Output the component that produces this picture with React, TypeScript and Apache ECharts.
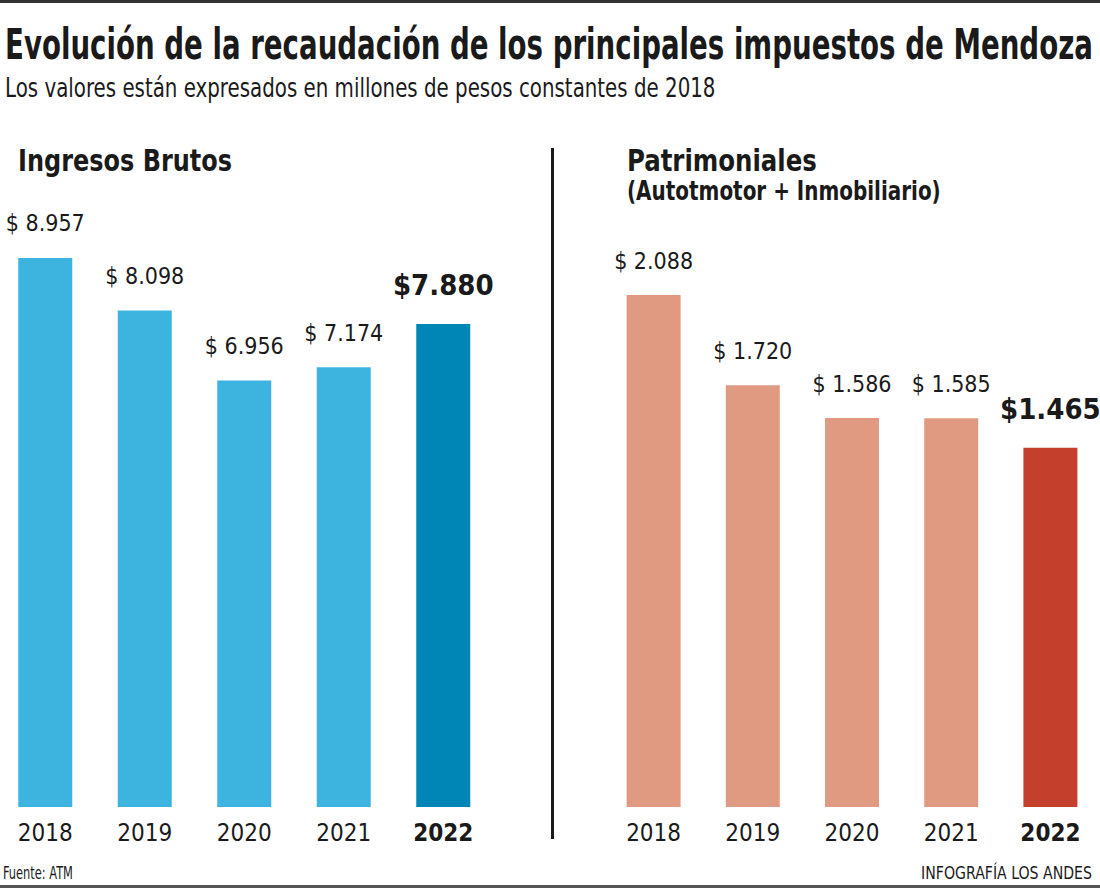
import React, { useEffect, useRef } from "react";
import * as echarts from "echarts";

const years = ["2018", "2019", "2020", "2021", "2022"];
const ingresosBrutos = [8957, 8098, 6956, 7174, 7880];
const patrimoniales = [2088, 1720, 1586, 1585, 1465];

const FONT = '"Liberation Sans Narrow", "DejaVu Sans Condensed", "Roboto", sans-serif';
const TEXT = "#1a1a1a";
const BLUE = "#3db4df";
const BLUE_DARK = "#0086b6";
const SALMON = "#e09a82";
const RED = "#c4402c";
const OX = 10; // container is shifted left by OX so the left grid can start before x=0

const fmtNum = (v: number) =>
  Math.floor(v / 1000) + "." + String(v % 1000).padStart(3, "0");

function measure(text: string, font: string): number {
  const c = document.createElement("canvas").getContext("2d");
  if (!c) return 1;
  c.font = font;
  return c.measureText(text).width || 1;
}

function fitText(
  text: string,
  x: number,
  y: number,
  size: number,
  weight: string,
  target: number,
  align: "left" | "right" = "left"
) {
  const w = measure(text, `${weight} ${size}px ${FONT}`);
  return {
    type: "text",
    x: x + OX,
    y,
    scaleX: target / w,
    style: {
      text,
      fontFamily: FONT,
      fontSize: size,
      fontWeight: weight,
      fill: TEXT,
      align,
      verticalAlign: "top",
    },
  };
}

export default function App() {
  const ref = useRef<HTMLDivElement>(null);

  useEffect(() => {
    if (!ref.current) return;
    const chart = echarts.init(ref.current, undefined, { renderer: "svg" });

    const makeData = (vals: number[], light: string, dark: string) =>
      vals.map((v, i) =>
        i === vals.length - 1
          ? {
              value: v,
              itemStyle: { color: dark },
              label: {
                fontSize: 29,
                fontWeight: "bold",
                distance: 24,
                formatter: (p: any) => "$" + fmtNum(p.value),
              },
            }
          : { value: v, itemStyle: { color: light } }
      );

    const xAxisBase = (gridIndex: number) => ({
      type: "category",
      gridIndex,
      data: years,
      axisLine: { show: false },
      axisTick: { show: false },
      axisLabel: {
        interval: 0,
        fontFamily: FONT,
        fontSize: 24,
        color: TEXT,
        margin: 14,
        formatter: (v: string, i: number) => (i === years.length - 1 ? `{b|${v}}` : v),
        rich: { b: { fontFamily: FONT, fontSize: 24, fontWeight: "bold", color: TEXT } },
      },
    });

    const labelBase = {
      show: true,
      position: "top",
      distance: 23,
      fontFamily: FONT,
      fontSize: 23,
      color: TEXT,
      formatter: (p: any) => "$ " + fmtNum(p.value),
    };

    chart.setOption({
      animation: false,
      backgroundColor: "#ffffff",
      grid: [
        { left: OX - 4.5, top: 194, width: 497.5, bottom: 81 },
        { left: OX + 604, top: 194, width: 496.5, bottom: 81 },
      ],
      xAxis: [xAxisBase(0), xAxisBase(1)],
      yAxis: [
        { type: "value", gridIndex: 0, min: 0, max: 10000, show: false, splitLine: { show: false } },
        { type: "value", gridIndex: 1, min: 0, max: 2500, show: false, splitLine: { show: false } },
      ],
      series: [
        {
          type: "bar",
          xAxisIndex: 0,
          yAxisIndex: 0,
          barWidth: 54,
          data: makeData(ingresosBrutos, BLUE, BLUE_DARK),
          label: labelBase,
        },
        {
          type: "bar",
          xAxisIndex: 1,
          yAxisIndex: 1,
          barWidth: 54,
          data: makeData(patrimoniales, SALMON, RED),
          label: labelBase,
        },
      ],
      graphic: [
        { type: "rect", shape: { x: 0, y: 0, width: 1100 + OX, height: 3 }, style: { fill: "#333" } },
        { type: "rect", shape: { x: 0, y: 885, width: 1100 + OX, height: 3 }, style: { fill: "#555" } },
        fitText("Evolución de la recaudación de los principales impuestos de Mendoza", 5, 24, 42, "bold", 1088),
        fitText("Los valores están expresados en millones de pesos constantes de 2018", 5, 75, 26, "normal", 711),
        fitText("Ingresos Brutos", 18, 145, 31, "bold", 214),
        fitText("Patrimoniales", 627, 145, 31, "bold", 190),
        fitText("(Autotmotor + Inmobiliario)", 627, 178, 26, "bold", 314),
        fitText("Fuente: ATM", 3, 864, 18, "normal", 70),
        fitText("INFOGRAFÍA LOS ANDES", 1092, 864, 18, "normal", 171, "right"),
        { type: "rect", shape: { x: OX + 551, y: 148, width: 3, height: 691 }, style: { fill: TEXT } },
      ],
    });

    return () => chart.dispose();
  }, []);

  return (
    <div
      ref={ref}
      style={{ position: "absolute", left: -OX, top: 0, width: 1100 + OX, height: 888 }}
    />
  );
}
